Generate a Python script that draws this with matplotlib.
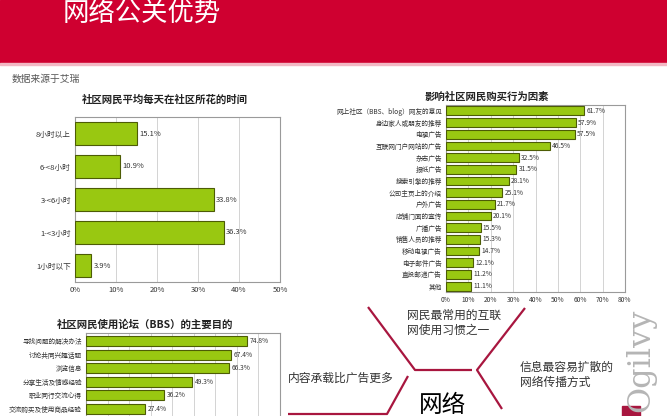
import matplotlib
matplotlib.use("Agg")
import matplotlib.pyplot as plt
from matplotlib.patches import Rectangle

plt.rcParams['font.family'] = ['Noto Sans CJK SC', 'DejaVu Sans']

# chart 1: daily time spent in community
time_cats = ["8小时以上", "6-<8小时", "3-<6小时", "1-<3小时", "1小时以下"]
time_vals = [15.1, 10.9, 33.8, 36.3, 3.9]

# chart 2: purchase factors
factor_cats = ["网上社区（BBS、blog）网友的意见", "身边家人或朋友的推荐", "电视广告",
               "互联网门户网站的广告", "杂志广告", "报纸广告", "搜索引擎的推荐",
               "公司主页上的介绍", "户外广告", "店铺门面的宣传", "广播广告",
               "销售人员的推荐", "移动电视广告", "电子邮件广告", "直投邮递广告", "其他"]
factor_vals = [61.7, 57.9, 57.5, 46.5, 32.5, 31.5, 28.1, 25.1, 21.7, 20.1,
               15.5, 15.3, 14.7, 12.1, 11.2, 11.1]

# chart 3: BBS purposes (cut off at the bottom of the slide)
bbs_cats = ["寻找问题的解决办法", "讨论共同兴趣话题", "浏览信息",
            "分享生活及情感经验", "职业同行交流心得", "交流购买及使用商品经验"]
bbs_vals = [74.8, 67.4, 66.3, 49.3, 36.2, 27.4]

BAR = '#99c811'
EDGE = '#4d5c05'
RED = '#cf0030'
LINE_RED = '#a8163f'

W, H = 667, 416
fig = plt.figure(figsize=(W / 100, H / 100), dpi=100)
fig.patch.set_facecolor('white')

# decoration layer in pixel coordinates
deco = fig.add_axes([0, 0, 1, 1], zorder=-5)
deco.set_xlim(0, W)
deco.set_ylim(H, 0)
deco.axis('off')
deco.add_patch(Rectangle((0, 0), W, 63, color=RED))
deco.add_patch(Rectangle((0, 63), W, 2, color='#f3b8c4'))
deco.text(63, 14, "网络公关优势", color='white', fontsize=19, va='center', ha='left')
deco.text(12, 79, "数据来源于艾瑞", color='#555555', fontsize=7, style='italic', va='center')

# red connector lines of the diagram
lines = [
    [(368, 307), (415, 370), (472, 370)],
    [(525, 308), (477, 370), (502, 409)],
    [(408, 376), (387, 414), (288, 414)],
]
for pts in lines:
    xs, ys = zip(*pts)
    deco.plot(xs, ys, color=LINE_RED, lw=1.6, solid_capstyle='butt')

deco.text(407, 323, "网民最常用的互联\n网使用习惯之一", fontsize=8.5, color='#333333',
          va='center', ha='left', linespacing=1.25)
deco.text(520, 375, "信息最容易扩散的\n网络传播方式", fontsize=8.5, color='#333333',
          va='center', ha='left', linespacing=1.25)
deco.text(288, 378, "内容承载比广告更多", fontsize=8.5, color='#333333', va='center', ha='left')
deco.text(443, 405, "网络", fontsize=17, color='black', va='center', ha='center')
deco.text(641, 360, "Ogilvy", fontsize=23, color='#b5b5b5', rotation=90,
          family='DejaVu Serif', va='center', ha='center')
deco.add_patch(Rectangle((622, 406), 18, 10, color=LINE_RED))


def bar_chart(rect, cats, vals, xmax, title, title_y, label_size, bar_h, ylim=None,
              show_x=True):
    ax = fig.add_axes(rect)
    y = list(range(len(cats)))
    ax.barh(y, vals, height=bar_h, color=BAR, edgecolor=EDGE, linewidth=0.8, zorder=3)
    ax.set_xlim(0, xmax)
    if ylim is None:
        ax.set_ylim(len(cats) - 0.5, -0.5)
    else:
        ax.set_ylim(*ylim)
    ax.set_yticks(y)
    ax.set_yticklabels(cats, fontsize=label_size, color='#333333')
    ax.set_xticks(range(0, xmax + 1, 10))
    if show_x:
        ax.set_xticklabels([f"{t}%" for t in range(0, xmax + 1, 10)],
                           fontsize=label_size, color='#333333')
    else:
        ax.set_xticklabels([])
    ax.tick_params(length=0, pad=3)
    ax.grid(axis='x', color='#cccccc', lw=0.6, zorder=0)
    for s in ax.spines.values():
        s.set_color('#9a9a9a')
        s.set_linewidth(0.8)
    for yi, v in zip(y, vals):
        ax.text(v + xmax * 0.012, yi, f"{v}%", fontsize=label_size, va='center',
                ha='left', color='#333333')
    return ax


bar_chart([75 / W, 1 - 282 / H, 205 / W, 165 / H], time_cats, time_vals, 50,
          "", 0, 5.5, 0.7)
fig.text(165 / W, 1 - 100 / H, "社区网民平均每天在社区所花的时间", fontsize=7.5,
         fontweight='bold', ha='center', va='center', color='#222222')

bar_chart([446 / W, 1 - 292 / H, 179 / W, 187 / H], factor_cats, factor_vals, 80,
          "", 0, 4.8, 0.75)
fig.text(487 / W, 1 - 97 / H, "影响社区网民购买行为因素", fontsize=7.5,
         fontweight='bold', ha='center', va='center', color='#222222')

bar_chart([86 / W, 1 - 440 / H, 194 / W, 107 / H], bbs_cats, bbs_vals, 90,
          "", 0, 4.8, 0.72, ylim=(7.3, -0.6), show_x=False)
fig.text(145 / W, 1 - 325 / H, "社区网民使用论坛（BBS）的主要目的", fontsize=7.5,
         fontweight='bold', ha='center', va='center', color='#222222')

fig.savefig("out.png", dpi=100)
